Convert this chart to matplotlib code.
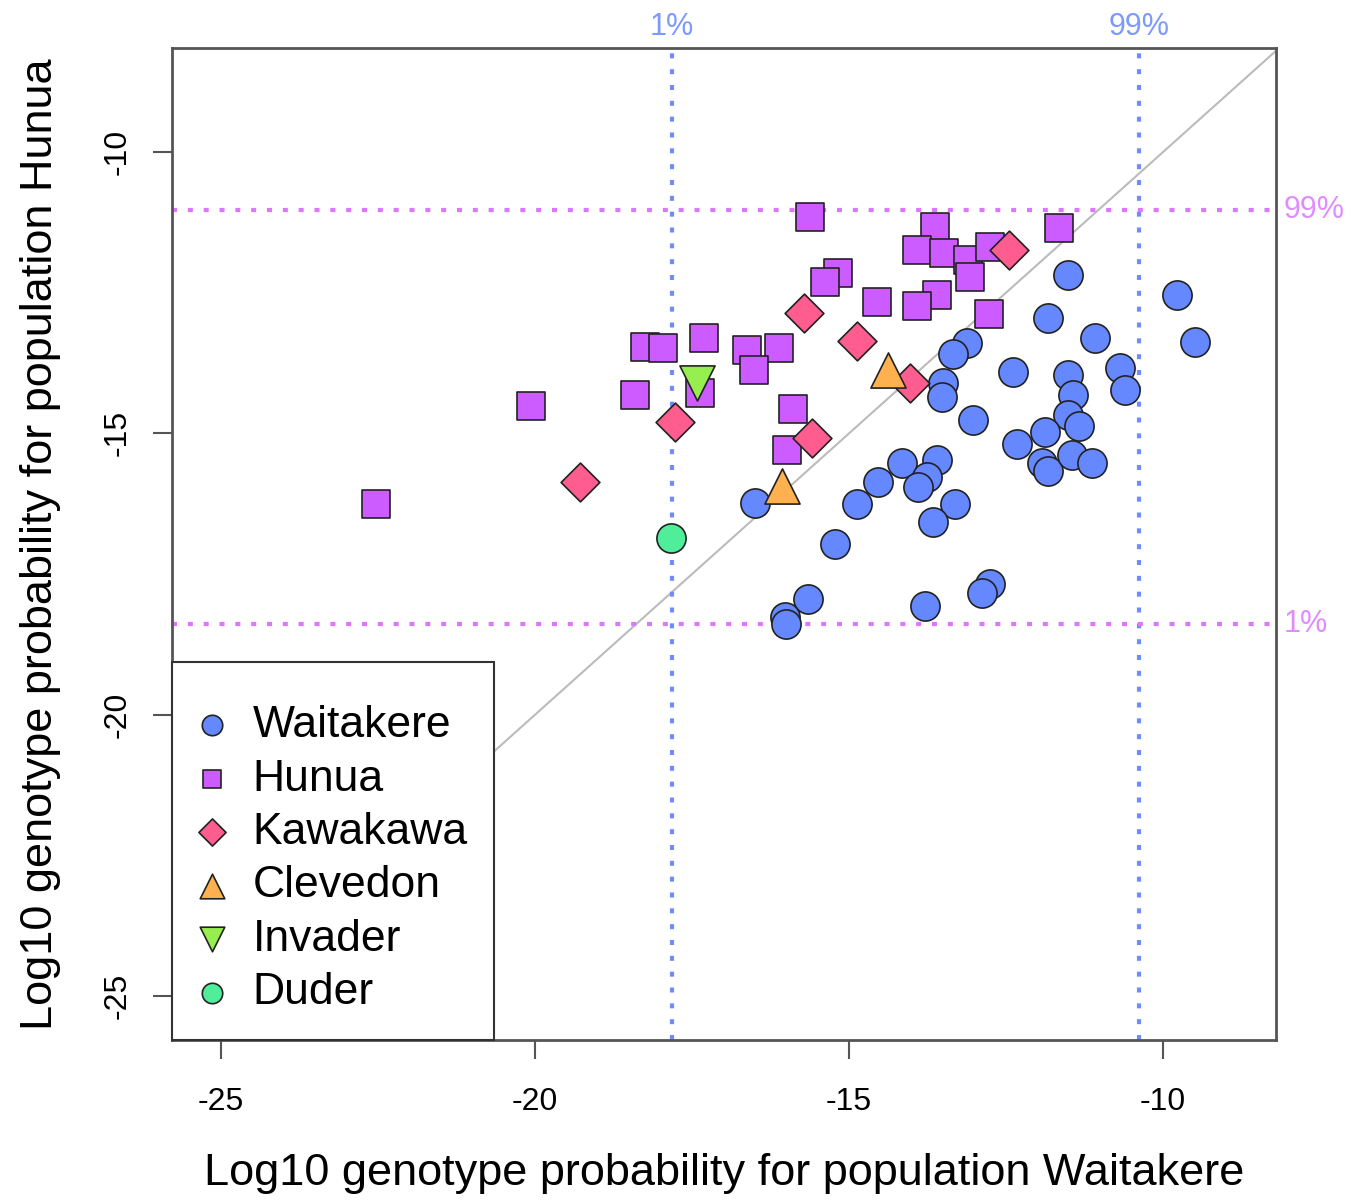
import matplotlib
matplotlib.use("Agg")
import matplotlib.pyplot as plt
import numpy as np

plt.rcParams["font.family"] = ["Liberation Sans", "DejaVu Sans"]
plt.rcParams["axes.unicode_minus"] = False

# log10 genotype probabilities (x: Waitakere, y: Hunua)
waitakere_x = [-11.51, -9.78, -9.49, -11.83, -11.08, -13.12, -13.34, -13.50, -13.52, -12.39,
               -11.51, -11.43, -10.68, -10.61, -13.03, -11.51, -11.34, -12.32, -11.88, -11.93,
               -11.83, -11.45, -11.13, -14.16, -13.60, -13.76, -13.90, -14.54, -14.87, -13.31,
               -13.66, -15.22, -16.50, -15.65, -16.02, -16.00, -13.79, -12.75, -12.88]
waitakere_y = [-12.19, -12.54, -13.38, -12.95, -13.31, -13.40, -13.58, -14.11, -14.36, -13.91,
               -13.97, -14.32, -13.84, -14.23, -14.77, -14.68, -14.86, -15.18, -14.98, -15.52,
               -15.66, -15.39, -15.53, -15.53, -15.48, -15.78, -15.96, -15.87, -16.25, -16.25,
               -16.58, -16.96, -16.23, -17.94, -18.27, -18.38, -18.06, -17.67, -17.83]

hunua_x = [-15.62, -13.63, -13.92, -13.49, -13.11, -13.07, -12.75, -11.66, -14.55, -13.60,
           -13.92, -12.77, -15.18, -15.38, -18.25, -17.96, -17.31, -16.62, -16.11, -16.51,
           -18.41, -20.06, -17.37, -15.89, -15.99, -22.53]
hunua_y = [-11.16, -11.33, -11.74, -11.80, -11.92, -12.22, -11.69, -11.35, -12.67, -12.54,
           -12.74, -12.88, -12.15, -12.31, -13.47, -13.49, -13.31, -13.52, -13.49, -13.88,
           -14.32, -14.52, -14.29, -14.57, -15.30, -16.26]

kawakawa_x = [-12.45, -15.72, -14.87, -14.03, -17.77, -15.59, -19.28]
kawakawa_y = [-11.74, -12.86, -13.36, -14.11, -14.80, -15.09, -15.87]

clevedon_x = [-14.38, -16.07]
clevedon_y = [-13.88, -15.93]

invader_x = [-17.42]
invader_y = [-14.11]

duder_x = [-17.83]
duder_y = [-16.85]

# 1% / 99% quantiles of the simulated distributions
x_q = [-17.82, -10.38]
y_q = [-18.38, -11.03]
q_labels = ["1%", "99%"]

groups = [
    ("Waitakere", waitakere_x, waitakere_y, "o", "#6688ff", 441),
    ("Hunua", hunua_x, hunua_y, "s", "#cc5cff", 380),
    ("Kawakawa", kawakawa_x, kawakawa_y, "D", "#ff5c8f", 390),
    ("Clevedon", clevedon_x, clevedon_y, "^", "#ffb04f", 640),
    ("Invader", invader_x, invader_y, "v", "#96ee4f", 640),
    ("Duder", duder_x, duder_y, "o", "#50ee9a", 441),
]

fig = plt.figure(figsize=(13.52, 12), dpi=100)
ax = fig.add_axes([172 / 1352, 1 - 1040 / 1200, (1276 - 172) / 1352, (1040 - 48) / 1200])

ax.set_xlim(-25.78, -8.2)
ax.set_ylim(-25.78, -8.15)

ax.plot([-30, 0], [-30, 0], color="#bbbbbb", lw=1.5, zorder=1)

for v in x_q:
    ax.axvline(v, color="#6f8cff", lw=3, ls=(0, (1.2, 2.6)), zorder=1)
for v in y_q:
    ax.axhline(v, color="#dd77ff", lw=3, ls=(0, (1.2, 2.6)), zorder=1)

for v, lab in zip(x_q, q_labels):
    ax.text(v, 1.006, lab, transform=ax.get_xaxis_transform(), ha="center", va="bottom",
            color="#7d98ff", fontsize=22)
for v, lab in zip(y_q, q_labels):
    ax.text(1.007, v, lab, transform=ax.get_yaxis_transform(), ha="left", va="center",
            color="#e08cff", fontsize=22)

for name, xs, ys, m, c, s in groups:
    ax.scatter(xs, ys, marker=m, s=s, c=c, edgecolors="#222222", linewidths=1.2,
               label=name, zorder=3)

ax.set_xticks([-25, -20, -15, -10])
ax.set_yticks([-25, -20, -15, -10])
ax.tick_params(axis="both", length=14, width=1.5, color="#555555", labelsize=23)
ax.tick_params(axis="x", pad=20)
ax.tick_params(axis="y", pad=14)
for lab in ax.get_yticklabels():
    lab.set_rotation(90)
    lab.set_va("center")

for sp in ax.spines.values():
    sp.set_color("#555555")
    sp.set_linewidth(2)

ax.set_xlabel("Log10 genotype probability for population Waitakere", fontsize=32.5, labelpad=26)
ax.set_ylabel("Log10 genotype probability for population Hunua", fontsize=32.5, labelpad=30)

# tiny blank title just to give the box a bit more room on top
leg = ax.legend(loc="lower left", bbox_to_anchor=(0, 0), borderaxespad=0, fontsize=32,
                markerscale=0.7, frameon=True, fancybox=False, framealpha=1,
                edgecolor="#333333", handletextpad=0.61, labelspacing=0.28,
                borderpad=0.6, handlelength=0.6, title=" ", title_fontsize=2)
leg.get_frame().set_linewidth(1.5)
leg.set_zorder(5)

fig.savefig("out.png", dpi=100)
